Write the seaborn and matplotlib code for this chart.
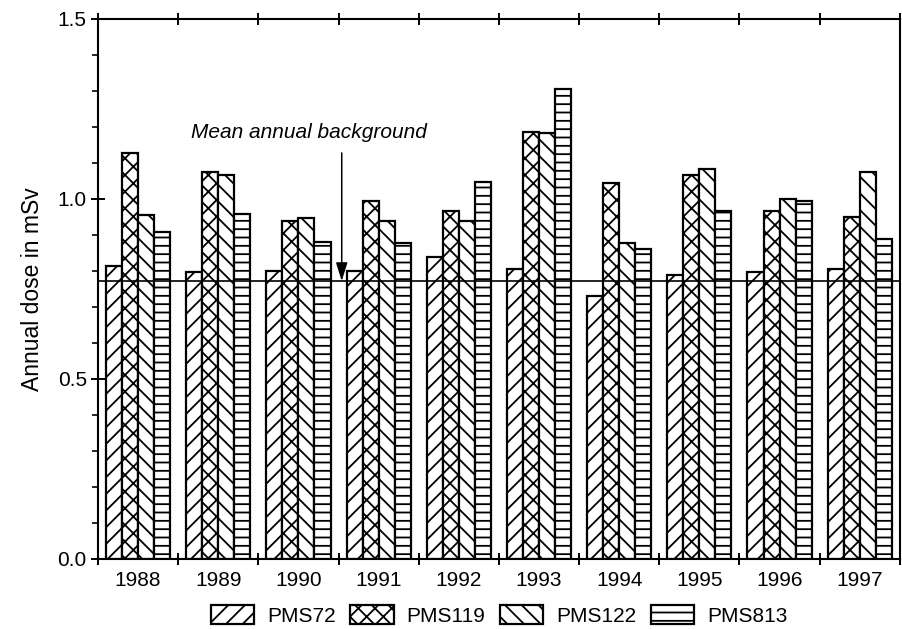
import matplotlib
matplotlib.use("Agg")
import matplotlib.pyplot as plt
import matplotlib.patches as mpatches
from matplotlib.ticker import MultipleLocator, FixedLocator
import seaborn as sns
import pandas as pd

years = ["1988", "1989", "1990", "1991", "1992", "1993", "1994", "1995", "1996", "1997"]
series = ["PMS72", "PMS119", "PMS122", "PMS813"]
pms72 = [0.814, 0.798, 0.800, 0.800, 0.839, 0.806, 0.731, 0.789, 0.796, 0.805]
pms119 = [1.127, 1.076, 0.939, 0.995, 0.966, 1.185, 1.045, 1.068, 0.967, 0.951]
pms122 = [0.956, 1.068, 0.946, 0.939, 0.939, 1.182, 0.879, 1.082, 1.000, 1.075]
pms813 = [0.907, 0.957, 0.880, 0.878, 1.046, 1.305, 0.861, 0.967, 0.995, 0.890]
background = 0.772
hatches = ["//", "xx", "\\\\", "--"]

values = {"PMS72": pms72, "PMS119": pms119, "PMS122": pms122, "PMS813": pms813}
rows = []
for s in series:
    for y, v in zip(years, values[s]):
        rows.append({"year": y, "station": s, "dose": v})
df = pd.DataFrame(rows)

sns.set_style("ticks")
plt.rcParams["font.family"] = ["Liberation Sans", "DejaVu Sans"]
plt.rcParams["hatch.linewidth"] = 1.3
for k in ["text.color", "axes.labelcolor", "xtick.color", "ytick.color",
          "axes.edgecolor"]:
    plt.rcParams[k] = "black"

fig = plt.figure(figsize=(9.02, 6.29), dpi=100)
ax = fig.add_axes([0.1086, 0.1113, 0.889, 0.8585])

sns.barplot(data=df, x="year", y="dose", hue="station", order=years,
            hue_order=series, width=0.8, legend=False, ax=ax,
            color="white", saturation=1)

for cont, h in zip(ax.containers, hatches):
    for p in cont.patches:
        p.set_facecolor("white")
        p.set_edgecolor("black")
        p.set_linewidth(1.6)
        p.set_hatch(h)

ax.set_xlim(-0.5, 9.5)
ax.set_ylim(0, 1.5)

ax.axhline(background, color="black", lw=1.2, zorder=5)
ax.annotate("", xy=(2.54, background), xytext=(2.54, 1.128),
            arrowprops=dict(arrowstyle="-|>,head_length=0.8,head_width=0.25",
                            color="black", lw=1.1,
                            mutation_scale=14, shrinkA=0, shrinkB=0),
            zorder=6)
ax.text(2.13, 1.185, "Mean annual background", fontsize=15,
        style="italic", ha="center", va="center")

ax.set_xlabel("")
ax.set_ylabel("Annual dose in mSv", fontsize=16.5, labelpad=10)

for sp in ax.spines.values():
    sp.set_visible(True)
    sp.set_color("black")
    sp.set_linewidth(1.5)

ax.set_yticks([0.0, 0.5, 1.0, 1.5])
ax.set_yticklabels(["0.0", "0.5", "1.0", "1.5"])
ax.yaxis.set_minor_locator(MultipleLocator(0.1))
ax.tick_params(axis="y", which="major", direction="inout", length=10,
               width=1.4, labelsize=15, pad=3)
ax.tick_params(axis="y", which="minor", direction="out", length=4, width=1.2)

ax.xaxis.set_minor_locator(FixedLocator([i - 0.5 for i in range(11)]))
ax.tick_params(axis="x", which="major", length=0, labelsize=15, pad=9)
ax.tick_params(axis="x", which="minor", direction="inout", length=9,
               width=1.4, top=True, bottom=True)

handles = [mpatches.Patch(facecolor="white", edgecolor="black", hatch=h, lw=1.6,
                          label=s) for s, h in zip(series, hatches)]
ax.legend(handles=handles, loc="upper center", bbox_to_anchor=(0.5, -0.07),
          ncol=4, frameon=False, fontsize=15, handlelength=2.1,
          handleheight=1.05, handletextpad=0.6, columnspacing=0.7,
          borderaxespad=0)

fig.savefig("out.png", dpi=100)
